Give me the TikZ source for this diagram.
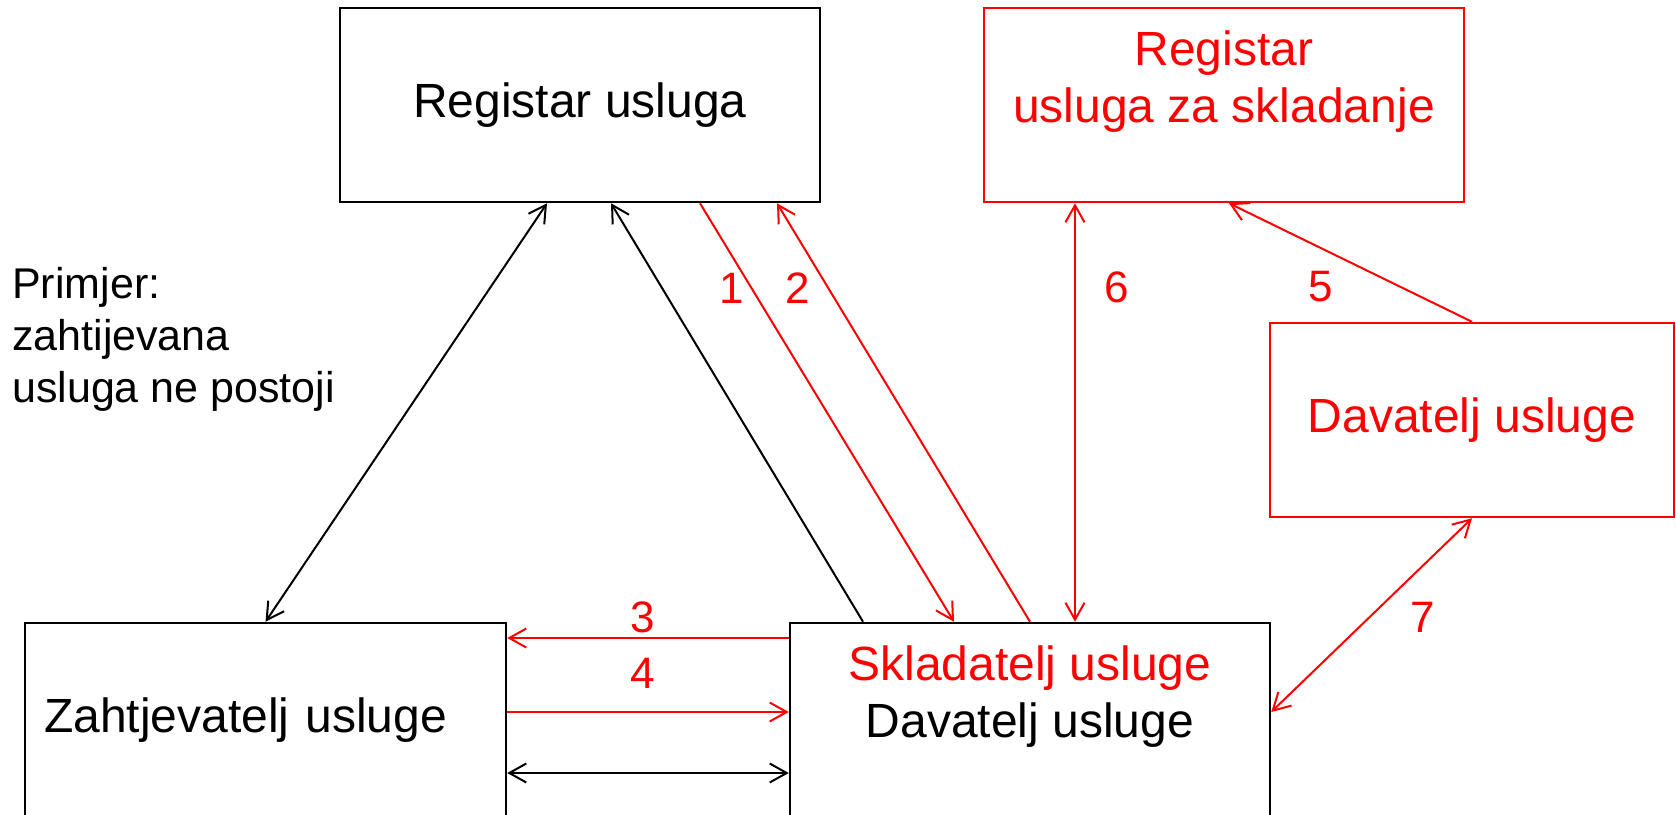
\documentclass[tikz,border=0pt]{standalone}
\usepackage{fontspec}
\setmainfont{Liberation Sans}
\usetikzlibrary{arrows.meta}

\begin{document}
\begin{tikzpicture}[x=1pt,y=-1pt,
  >={Straight Barb[length=17pt,width=19pt]},
  box/.style={draw,rectangle,line width=2.5pt,minimum width=480pt,minimum height=194pt,
    inner sep=0pt,align=center,font=\fontsize{48}{57}\selectfont},
  redbox/.style={box,draw=red,text=red},
  link/.style={line width=2pt},
  redlink/.style={link,draw=red},
  num/.style={text=red,inner sep=0pt,font=\fontsize{44}{50}\selectfont}]
\useasboundingbox (0,0) rectangle (1676,814);

\node[box] (reg) at (580,105) {Registar usluga};
\node[redbox] (regs) at (1224,105) {Registar\\usluga za skladanje\\\mbox{}};
\node[redbox,minimum width=404pt] (dav) at (1472,420) {Davatelj usluge};
\node[box,minimum width=481pt,text width=443pt,inner xsep=19pt,align=left] (zah) at (265.5,720) {Zahtjevatelj usluge};
\node[box] (skl) at (1030,720) {\textcolor{red}{Skladatelj usluge}\\Davatelj usluge\\\mbox{}};

\node[anchor=north west,align=left,inner sep=0pt,font=\fontsize{43}{52}\selectfont] (note) at (12,267)
  {Primjer:\\zahtijevana\\usluga ne postoji};

\foreach \x/\y/\n in {732/288/1, 798/288/2, 643/617/3, 643/673/4, 1321/287/5, 1117/287/6, 1423/617/7}
  \node[num] (n\n) at (\x,\y) {\n};

\draw[link,<->] ([xshift=-33pt]reg.south) to (zah.north);
\draw[link,->] ([xshift=-167pt]skl.north) to ([xshift=31pt]reg.south);
\draw[link,<->] ([yshift=-53pt]zah.east) to ([yshift=-53pt]skl.west);

\draw[redlink,->] ([xshift=120pt]reg.south) to ([xshift=-76pt]skl.north);
\draw[redlink,->] (skl.north) to ([xshift=197pt]reg.south);
\draw[redlink,->] ([yshift=82pt]skl.west) to ([yshift=82pt]zah.east);
\draw[redlink,->] ([yshift=8pt]zah.east) to ([yshift=8pt]skl.west);
\draw[redlink,->] (dav.north) to ([xshift=5pt]regs.south);
\draw[redlink,<->] ([xshift=-149pt]regs.south) to ([xshift=45pt]skl.north);
\draw[redlink,<->] (dav.south) to ([yshift=8pt]skl.east);

\end{tikzpicture}
\end{document}
